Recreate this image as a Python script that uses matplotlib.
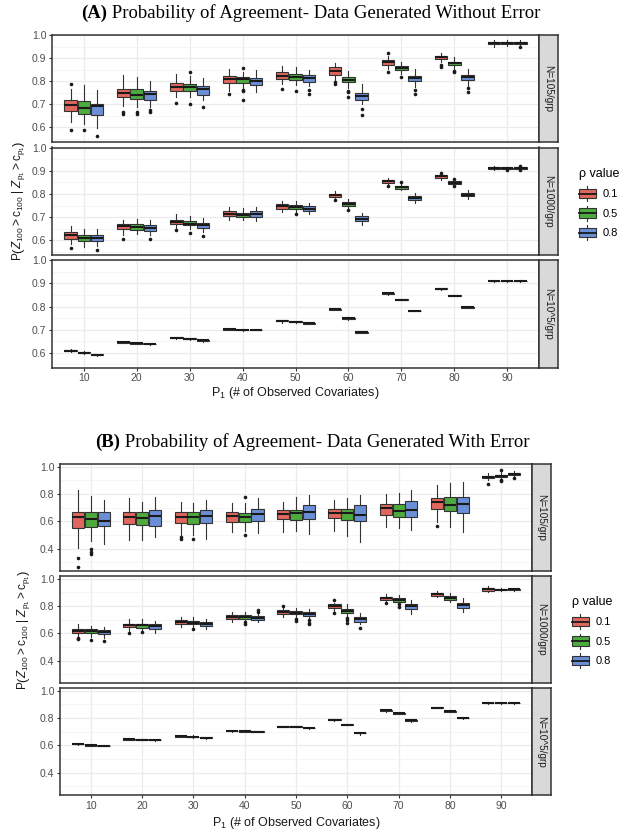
import matplotlib
matplotlib.use("Agg")
import matplotlib.pyplot as plt
from matplotlib.patches import Rectangle, Patch
from matplotlib.lines import Line2D
from matplotlib.legend_handler import HandlerBase

plt.rcParams['font.family'] = ['Liberation Sans', 'DejaVu Sans']
plt.rcParams['mathtext.fontset'] = 'custom'
plt.rcParams['mathtext.rm'] = 'Liberation Sans'
plt.rcParams['mathtext.it'] = 'Liberation Sans:italic'
plt.rcParams['mathtext.bf'] = 'Liberation Sans:bold'

# categories and groups
p1_labels = ['10', '20', '30', '40', '50', '60', '70', '80', '90']
rho_labels = ['0.1', '0.5', '0.8']
rho_colors = ['#E0675D', '#4DAA3F', '#6B8FD7']
strip_labels = ['N=105/grp', 'N=1000/grp', 'N=10^5/grp']

# box summaries, ordered (P1, rho): 10/0.1, 10/0.5, 10/0.8, 20/0.1, ...
# ---- (A) without error, N=105/grp
a1_med = [0.696, 0.686, 0.691, 0.749, 0.741, 0.746, 0.777, 0.774, 0.767,
          0.809, 0.809, 0.800, 0.825, 0.820, 0.815, 0.846, 0.807, 0.738,
          0.882, 0.859, 0.815, 0.904, 0.878, 0.817, 0.966, 0.966, 0.966]
a1_q1 = [0.671, 0.660, 0.655, 0.731, 0.724, 0.720, 0.757, 0.757, 0.741,
         0.792, 0.792, 0.784, 0.810, 0.806, 0.799, 0.829, 0.796, 0.721,
         0.872, 0.851, 0.800, 0.897, 0.871, 0.806, 0.961, 0.961, 0.960]
a1_q3 = [0.717, 0.713, 0.701, 0.767, 0.767, 0.757, 0.793, 0.789, 0.779,
         0.822, 0.820, 0.815, 0.839, 0.832, 0.829, 0.861, 0.817, 0.750,
         0.892, 0.868, 0.825, 0.911, 0.886, 0.829, 0.971, 0.971, 0.971]
a1_lo = [0.623, 0.616, 0.599, 0.695, 0.690, 0.688, 0.731, 0.731, 0.717,
         0.760, 0.772, 0.753, 0.789, 0.786, 0.779, 0.803, 0.772, 0.703,
         0.853, 0.832, 0.774, 0.885, 0.853, 0.782, 0.951, 0.952, 0.951]
a1_hi = [0.765, 0.786, 0.764, 0.828, 0.820, 0.800, 0.830, 0.825, 0.815,
         0.853, 0.839, 0.849, 0.865, 0.861, 0.849, 0.879, 0.846, 0.789,
         0.911, 0.885, 0.853, 0.922, 0.904, 0.853, 0.980, 0.979, 0.979]
a1_out = [[0.787, 0.591], [0.587], [0.561],
          [0.667, 0.660], [0.667, 0.657], [0.674, 0.667],
          [0.705], [0.842, 0.703], [0.688],
          [0.746], [0.858, 0.763, 0.757, 0.720], [],
          [0.767], [0.760], [0.763, 0.746],
          [0.796, 0.789], [0.760, 0.753, 0.731], [0.681, 0.652],
          [0.922, 0.839], [0.818], [0.763, 0.743],
          [0.871, 0.861], [0.843, 0.839], [0.770, 0.753],
          [], [], [0.947]]

# ---- (A) without error, N=1000/grp
a2_med = [0.622, 0.611, 0.611, 0.661, 0.658, 0.654, 0.680, 0.672, 0.668,
          0.716, 0.711, 0.713, 0.747, 0.744, 0.737, 0.795, 0.757, 0.691,
          0.855, 0.829, 0.783, 0.876, 0.849, 0.797, 0.913, 0.911, 0.913]
a2_q1 = [0.608, 0.596, 0.596, 0.651, 0.647, 0.641, 0.670, 0.665, 0.655,
         0.704, 0.701, 0.701, 0.737, 0.734, 0.727, 0.787, 0.749, 0.682,
         0.849, 0.823, 0.776, 0.871, 0.845, 0.790, 0.909, 0.908, 0.908]
a2_q3 = [0.636, 0.625, 0.622, 0.672, 0.672, 0.665, 0.687, 0.682, 0.677,
         0.726, 0.720, 0.726, 0.756, 0.751, 0.749, 0.802, 0.766, 0.704,
         0.859, 0.833, 0.790, 0.884, 0.855, 0.805, 0.916, 0.914, 0.917]
a2_lo = [0.586, 0.572, 0.575, 0.622, 0.629, 0.622, 0.655, 0.651, 0.636,
         0.687, 0.687, 0.682, 0.723, 0.718, 0.713, 0.777, 0.737, 0.665,
         0.842, 0.816, 0.763, 0.862, 0.838, 0.780, 0.904, 0.904, 0.904]
a2_hi = [0.662, 0.651, 0.651, 0.690, 0.691, 0.687, 0.713, 0.705, 0.698,
         0.744, 0.740, 0.744, 0.770, 0.769, 0.763, 0.813, 0.780, 0.718,
         0.868, 0.848, 0.805, 0.895, 0.866, 0.816, 0.919, 0.918, 0.920]
a2_out = [[0.567], [], [0.557],
          [0.605], [], [0.608],
          [0.644], [0.632], [0.619],
          [], [], [],
          [], [0.713], [],
          [0.773], [0.730], [],
          [0.835], [0.852], [],
          [0.891], [0.863, 0.833], [],
          [], [0.902], [0.921, 0.906]]

# ---- (A) without error, N=10^5/grp
a3_med = [0.610, 0.601, 0.593, 0.645, 0.641, 0.638, 0.665, 0.661, 0.654,
          0.702, 0.699, 0.700, 0.738, 0.735, 0.728, 0.789, 0.750, 0.690,
          0.857, 0.830, 0.782, 0.876, 0.847, 0.796, 0.910, 0.910, 0.910]
a3_q1 = [0.608, 0.599, 0.591, 0.644, 0.640, 0.637, 0.663, 0.659, 0.652,
         0.700, 0.697, 0.699, 0.736, 0.733, 0.726, 0.787, 0.748, 0.688,
         0.855, 0.828, 0.781, 0.874, 0.846, 0.795, 0.909, 0.909, 0.909]
a3_q3 = [0.612, 0.603, 0.595, 0.646, 0.642, 0.639, 0.667, 0.663, 0.656,
         0.703, 0.701, 0.701, 0.740, 0.737, 0.730, 0.791, 0.752, 0.692,
         0.859, 0.832, 0.783, 0.878, 0.848, 0.797, 0.911, 0.911, 0.911]
a3_lo = [0.603, 0.596, 0.588, 0.642, 0.639, 0.636, 0.658, 0.656, 0.649,
         0.698, 0.693, 0.698, 0.731, 0.731, 0.723, 0.784, 0.743, 0.687,
         0.850, 0.827, 0.780, 0.872, 0.845, 0.794, 0.908, 0.908, 0.906]
a3_hi = [0.616, 0.607, 0.597, 0.647, 0.643, 0.640, 0.669, 0.666, 0.660,
         0.704, 0.705, 0.702, 0.743, 0.739, 0.734, 0.792, 0.753, 0.693,
         0.860, 0.833, 0.784, 0.882, 0.849, 0.798, 0.912, 0.912, 0.913]
a3_out = [[] for _ in range(27)]

# ---- (B) with error, N=105/grp
b1_med = [0.629, 0.617, 0.605, 0.634, 0.622, 0.639, 0.634, 0.629, 0.641,
          0.639, 0.634, 0.653, 0.653, 0.658, 0.665, 0.663, 0.663, 0.646,
          0.699, 0.675, 0.682, 0.742, 0.718, 0.730, 0.928, 0.935, 0.947]
b1_q1 = [0.549, 0.561, 0.566, 0.581, 0.573, 0.566, 0.586, 0.581, 0.586,
         0.598, 0.598, 0.602, 0.614, 0.610, 0.617, 0.622, 0.610, 0.602,
         0.646, 0.629, 0.629, 0.689, 0.675, 0.663, 0.916, 0.925, 0.940]
b1_q3 = [0.670, 0.665, 0.665, 0.665, 0.665, 0.682, 0.665, 0.665, 0.682,
         0.670, 0.663, 0.689, 0.682, 0.682, 0.718, 0.689, 0.689, 0.718,
         0.725, 0.725, 0.749, 0.773, 0.778, 0.778, 0.935, 0.942, 0.954]
b1_lo = [0.405, 0.458, 0.436, 0.465, 0.465, 0.482, 0.501, 0.501, 0.472,
         0.520, 0.525, 0.513, 0.520, 0.530, 0.506, 0.530, 0.494, 0.446,
         0.561, 0.549, 0.537, 0.598, 0.557, 0.520, 0.899, 0.911, 0.923]
b1_hi = [0.827, 0.786, 0.759, 0.771, 0.742, 0.778, 0.742, 0.735, 0.759,
         0.735, 0.735, 0.771, 0.742, 0.778, 0.795, 0.754, 0.773, 0.790,
         0.802, 0.810, 0.827, 0.863, 0.880, 0.887, 0.952, 0.964, 0.969]
b1_out = [[0.333, 0.267], [0.393, 0.376, 0.361], [],
          [], [], [],
          [0.482, 0.470], [0.472], [],
          [], [0.778, 0.496], [],
          [], [], [],
          [], [], [],
          [], [], [],
          [0.566], [], [],
          [0.875], [0.976, 0.904, 0.894], [0.918]]

# ---- (B) with error, N=1000/grp
b2_med = [0.617, 0.617, 0.610, 0.658, 0.658, 0.653, 0.682, 0.678, 0.670,
          0.721, 0.719, 0.714, 0.755, 0.750, 0.743, 0.799, 0.762, 0.702,
          0.857, 0.847, 0.799, 0.886, 0.859, 0.806, 0.922, 0.920, 0.922]
b2_q1 = [0.605, 0.600, 0.593, 0.646, 0.641, 0.634, 0.670, 0.665, 0.653,
         0.707, 0.707, 0.697, 0.738, 0.738, 0.726, 0.787, 0.745, 0.685,
         0.842, 0.828, 0.779, 0.876, 0.847, 0.787, 0.913, 0.915, 0.915]
b2_q3 = [0.629, 0.629, 0.624, 0.670, 0.665, 0.665, 0.695, 0.690, 0.682,
         0.733, 0.731, 0.726, 0.767, 0.762, 0.755, 0.811, 0.775, 0.719,
         0.867, 0.859, 0.818, 0.896, 0.872, 0.823, 0.932, 0.925, 0.926]
b2_lo = [0.576, 0.576, 0.564, 0.617, 0.622, 0.605, 0.646, 0.641, 0.629,
         0.682, 0.690, 0.682, 0.719, 0.714, 0.709, 0.757, 0.721, 0.665,
         0.830, 0.799, 0.738, 0.864, 0.828, 0.758, 0.903, 0.908, 0.910]
b2_hi = [0.665, 0.653, 0.646, 0.702, 0.702, 0.690, 0.721, 0.721, 0.707,
         0.758, 0.755, 0.750, 0.787, 0.782, 0.779, 0.823, 0.816, 0.745,
         0.891, 0.884, 0.847, 0.908, 0.896, 0.859, 0.944, 0.930, 0.935]
b2_out = [[0.564, 0.556], [0.551], [0.544],
          [0.600], [0.612], [],
          [], [0.634], [],
          [], [0.682, 0.670], [0.770, 0.758],
          [0.799], [0.702, 0.690], [0.695, 0.678, 0.665],
          [0.842, 0.750], [0.709, 0.695, 0.678], [0.636],
          [0.823], [0.816, 0.792], [],
          [], [], [],
          [], [], []]

# ---- (B) with error, N=10^5/grp
b3_med = [0.608, 0.600, 0.596, 0.644, 0.642, 0.637, 0.666, 0.661, 0.654,
          0.705, 0.702, 0.700, 0.736, 0.736, 0.726, 0.787, 0.751, 0.690,
          0.855, 0.835, 0.782, 0.874, 0.850, 0.800, 0.910, 0.910, 0.910]
b3_q1 = [0.606, 0.597, 0.594, 0.641, 0.640, 0.635, 0.664, 0.658, 0.651,
         0.702, 0.699, 0.698, 0.734, 0.734, 0.723, 0.784, 0.748, 0.687,
         0.852, 0.832, 0.779, 0.872, 0.847, 0.797, 0.908, 0.908, 0.908]
b3_q3 = [0.610, 0.602, 0.598, 0.648, 0.644, 0.640, 0.668, 0.664, 0.657,
         0.708, 0.705, 0.702, 0.738, 0.738, 0.729, 0.790, 0.754, 0.693,
         0.858, 0.838, 0.785, 0.877, 0.852, 0.803, 0.912, 0.912, 0.912]
b3_lo = [0.604, 0.595, 0.592, 0.636, 0.638, 0.633, 0.661, 0.650, 0.645,
         0.699, 0.697, 0.696, 0.732, 0.732, 0.721, 0.776, 0.746, 0.677,
         0.847, 0.830, 0.773, 0.871, 0.845, 0.795, 0.903, 0.903, 0.903]
b3_hi = [0.614, 0.604, 0.600, 0.650, 0.646, 0.642, 0.670, 0.672, 0.660,
         0.710, 0.713, 0.704, 0.740, 0.740, 0.731, 0.793, 0.756, 0.695,
         0.860, 0.840, 0.787, 0.880, 0.855, 0.805, 0.917, 0.917, 0.917]
b3_out = [[] for _ in range(27)]

W, H = 640, 836
DARK = '#333333'


def px_rect(x0, y0, x1, y1):
    return [x0 / W, 1 - y1 / H, (x1 - x0) / W, (y1 - y0) / H]


class BoxKey(HandlerBase):
    def create_artists(self, legend, orig_handle, xdescent, ydescent,
                       width, height, fontsize, trans):
        x0, y0 = -xdescent, -ydescent
        cx = x0 + width / 2
        whisk = Line2D([cx, cx], [y0 - 0.15 * height, y0 + 1.15 * height],
                       color=DARK, lw=0.8, transform=trans)
        box = Rectangle((x0, y0 + 0.1 * height), width, 0.8 * height,
                        facecolor=orig_handle.get_facecolor(), edgecolor=DARK,
                        lw=0.8, transform=trans)
        med = Line2D([x0, x0 + width], [y0 + 0.5 * height] * 2,
                     color='#1a1a1a', lw=1.3, transform=trans)
        return [whisk, box, med]


def draw_panel(ax, med, q1, q3, lo, hi, out, ylim, yticks, yminor, bottom):
    offsets = [-0.25, 0.0, 0.25]
    stats, pos = [], []
    for i in range(len(med)):
        stats.append(dict(med=med[i], q1=q1[i], q3=q3[i],
                          whislo=lo[i], whishi=hi[i], fliers=out[i]))
        pos.append(i // 3 + 1 + offsets[i % 3])
    res = ax.bxp(stats, positions=pos, widths=0.235, patch_artist=True,
                 showcaps=False,
                 boxprops=dict(edgecolor=DARK, linewidth=0.8),
                 whiskerprops=dict(color=DARK, linewidth=0.8),
                 medianprops=dict(color='#1a1a1a', linewidth=1.5),
                 flierprops=dict(marker='o', markersize=2.6,
                                 markerfacecolor='#1a1a1a',
                                 markeredgecolor='none'))
    for i, b in enumerate(res['boxes']):
        b.set_facecolor(rho_colors[i % 3])
    ax.set_xlim(0.4, 9.6)
    ax.set_ylim(*ylim)
    ax.set_yticks(yticks)
    ax.set_yticks(yminor, minor=True)
    ax.set_xticks(range(1, 10))
    ax.set_axisbelow(True)
    ax.grid(which='major', color='#EBEBEB', lw=0.9)
    ax.grid(which='minor', axis='y', color='#F4F4F4', lw=0.6)
    for s in ax.spines.values():
        s.set_color(DARK)
        s.set_linewidth(1.1)
    ax.tick_params(which='major', length=2.5, color=DARK, labelcolor='#4D4D4D',
                   labelsize=7.5, pad=1.5)
    ax.tick_params(which='minor', length=0)
    if bottom:
        ax.set_xticklabels(p1_labels)
    else:
        ax.tick_params(axis='x', bottom=False, labelbottom=False)


def draw_strip(fig, rect, label):
    s = fig.add_axes(rect)
    s.set_facecolor('#D9D9D9')
    s.set_xticks([])
    s.set_yticks([])
    for sp in s.spines.values():
        sp.set_color(DARK)
        sp.set_linewidth(1.1)
    s.text(0.5, 0.5, label, rotation=-90, ha='center', va='center',
           fontsize=7.2, color='#1A1A1A', transform=s.transAxes)


def draw_title(fig, cx, cy, tag, rest):
    t1 = fig.text(0, 1 - cy / H, tag, fontfamily='Liberation Serif',
                  fontweight='bold', fontsize=13.5, va='center', ha='left')
    t2 = fig.text(0, 1 - cy / H, rest, fontfamily='Liberation Serif',
                  fontsize=13.5, va='center', ha='left')
    r = fig.canvas.get_renderer()
    w1 = t1.get_window_extent(r).width
    w2 = t2.get_window_extent(r).width
    x0 = cx - (w1 + w2) / 2
    t1.set_x(x0 / W)
    t2.set_x((x0 + w1) / W)


fig = plt.figure(figsize=(6.4, 8.36), dpi=100)
ylab = r'P$\left(Z_{100} > \mathrm{c}_{100}\ |\ Z_{\mathrm{p}_1} > \mathrm{c}_{\mathrm{p}_1}\right)$'
xlab = r'P$_1$ (# of Observed Covariates)'
handles = [Patch(facecolor=c) for c in rho_colors]

figures = [
    dict(tag='(A)', rest=' Probability of Agreement- Data Generated Without Error',
         title_xy=(311, 13), x0=52, x1=539, strip=558,
         rows=[(35, 142), (147.5, 255), (260, 367.5)],
         panels=[(a1_med, a1_q1, a1_q3, a1_lo, a1_hi, a1_out),
                 (a2_med, a2_q1, a2_q3, a2_lo, a2_hi, a2_out),
                 (a3_med, a3_q1, a3_q3, a3_lo, a3_hi, a3_out)],
         ylim=(0.537, 1.001), yticks=[0.6, 0.7, 0.8, 0.9, 1.0],
         yminor=[0.55, 0.65, 0.75, 0.85, 0.95],
         ylab_x=19, xlab_y=393, leg=(569, 158)),
    dict(tag='(B)', rest=' Probability of Agreement- Data Generated With Error',
         title_xy=(312, 442), x0=60, x1=532, strip=551,
         rows=[(464, 571), (576, 683), (688, 795)],
         panels=[(b1_med, b1_q1, b1_q3, b1_lo, b1_hi, b1_out),
                 (b2_med, b2_q1, b2_q3, b2_lo, b2_hi, b2_out),
                 (b3_med, b3_q1, b3_q3, b3_lo, b3_hi, b3_out)],
         ylim=(0.235, 1.02), yticks=[0.4, 0.6, 0.8, 1.0],
         yminor=[0.3, 0.5, 0.7, 0.9],
         ylab_x=24, xlab_y=823, leg=(562, 586)),
]

for f in figures:
    for k, (yt, yb) in enumerate(f['rows']):
        ax = fig.add_axes(px_rect(f['x0'], yt, f['x1'], yb))
        draw_panel(ax, *f['panels'][k], f['ylim'], f['yticks'], f['yminor'],
                   bottom=(k == 2))
        draw_strip(fig, px_rect(f['x1'], yt, f['strip'], yb), strip_labels[k])
    mid = (f['rows'][0][0] + f['rows'][2][1]) / 2
    fig.text(f['ylab_x'] / W, 1 - mid / H, ylab, rotation=90, ha='center',
             va='center', fontsize=8.5, color='#1A1A1A')
    fig.text((f['x0'] + f['x1']) / 2 / W, 1 - f['xlab_y'] / H, xlab,
             ha='center', va='center', fontsize=9, color='#1A1A1A')
    fig.legend(handles, rho_labels, title='\u03c1 value', loc='upper left',
               bbox_to_anchor=(f['leg'][0] / W, 1 - f['leg'][1] / H),
               frameon=False, fontsize=8, title_fontsize=9,
               handler_map={Patch: BoxKey()}, handlelength=1.5,
               handleheight=1.25, labelspacing=0.7, handletextpad=0.6,
               alignment='left')
    draw_title(fig, f['title_xy'][0], f['title_xy'][1], f['tag'], f['rest'])

fig.savefig('out.png', dpi=100)
